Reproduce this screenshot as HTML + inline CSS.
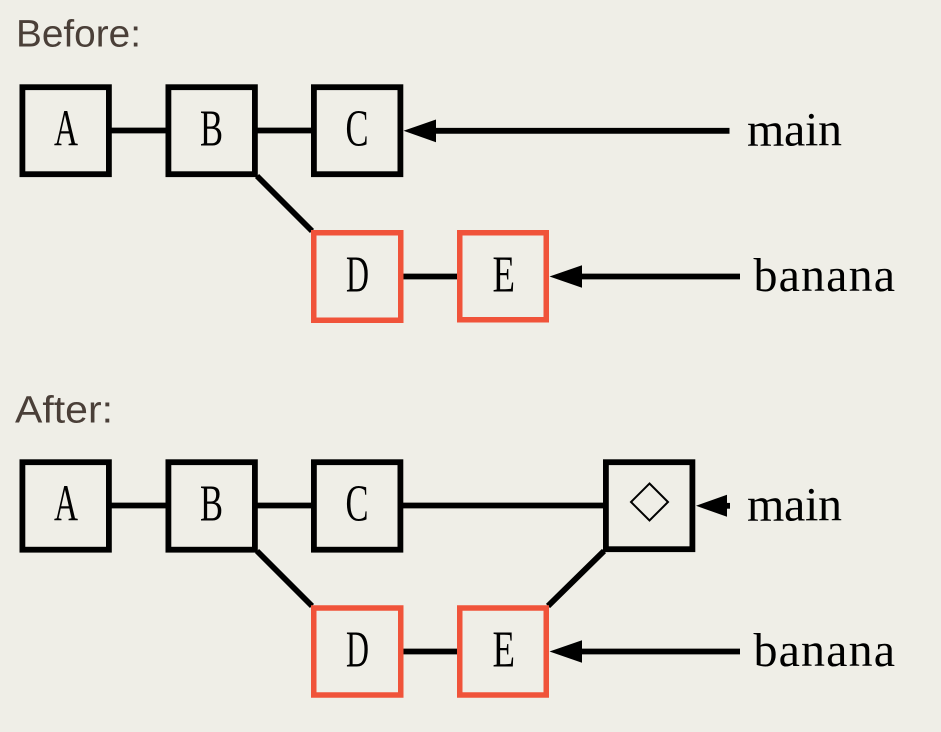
<!DOCTYPE html>
<html>
<head>
<meta charset="utf-8">
<style>
  html, body { margin:0; padding:0; }
  body { width:941px; height:732px; background:#efeee7; overflow:hidden; }
  svg { display:block; }
</style>
</head>
<body>
<svg width="941" height="732" viewBox="0 0 941 732" xmlns="http://www.w3.org/2000/svg">
  <rect x="0" y="0" width="941" height="732" fill="#efeee7"/>

  <!-- Section titles -->
  <text x="16" y="46.5" font-family="Liberation Sans, sans-serif" font-size="38" fill="#4a3f38" textLength="125" lengthAdjust="spacingAndGlyphs">Before:</text>
  <text x="15" y="422.5" font-family="Liberation Sans, sans-serif" font-size="38" fill="#4a3f38" textLength="98" lengthAdjust="spacingAndGlyphs">After:</text>

  <!-- ===== BEFORE ===== -->
  <g stroke="#000" stroke-width="5.8" fill="none">
    <line x1="111" y1="130.5" x2="166" y2="130.5"/>
    <line x1="257" y1="130.5" x2="312" y2="130.5"/>
    <line x1="257" y1="176" x2="312" y2="231"/>
    <line x1="403" y1="276.5" x2="458" y2="276.5"/>
    <line x1="430" y1="130.8" x2="729.5" y2="130.8"/>
    <line x1="576" y1="276.5" x2="740" y2="276.5"/>
    <rect x="22.4" y="87.2" width="86.5" height="87"/>
    <rect x="168.4" y="87.2" width="86.5" height="87"/>
    <rect x="313.9" y="87.2" width="86.5" height="87"/>
  </g>
  <g stroke="#f0533a" stroke-width="5.5" fill="none">
    <rect x="313.75" y="232.75" width="87" height="87.5"/>
    <rect x="459.75" y="232.75" width="86.5" height="87"/>
  </g>
  <polygon points="403.5,130.8 436,119.5 436,142.2" fill="#000"/>
  <polygon points="549.5,276.5 582,265.2 582,287.8" fill="#000"/>

  <g font-family="Liberation Serif, serif" font-size="52" fill="#000">
    <text x="54" y="145.5" textLength="24" lengthAdjust="spacingAndGlyphs">A</text>
    <text x="200" y="145.5" textLength="23" lengthAdjust="spacingAndGlyphs">B</text>
    <text x="345.5" y="145.5" textLength="23" lengthAdjust="spacingAndGlyphs">C</text>
    <text x="346" y="291.5" textLength="23" lengthAdjust="spacingAndGlyphs">D</text>
    <text x="492.5" y="291.5" textLength="22.5" lengthAdjust="spacingAndGlyphs">E</text>
  </g>
  <g font-family="Liberation Serif, serif" font-size="48" fill="#000">
    <text x="747" y="145.5" textLength="95" lengthAdjust="spacing">main</text>
    <text x="753.5" y="290.8" textLength="141.5" lengthAdjust="spacing">banana</text>
  </g>

  <!-- ===== AFTER ===== -->
  <g stroke="#000" stroke-width="5.8" fill="none">
    <line x1="111" y1="505.5" x2="166" y2="505.5"/>
    <line x1="257" y1="505.5" x2="312" y2="505.5"/>
    <line x1="403" y1="505.5" x2="603" y2="505.5"/>
    <line x1="257" y1="551" x2="312" y2="606"/>
    <line x1="548" y1="606" x2="604" y2="551"/>
    <line x1="403" y1="651.5" x2="458" y2="651.5"/>
    <line x1="722" y1="505.8" x2="730" y2="505.8"/>
    <line x1="576" y1="651.5" x2="740" y2="651.5"/>
    <rect x="22.4" y="462.2" width="86.5" height="87.5"/>
    <rect x="168.4" y="462.2" width="86.5" height="87.5"/>
    <rect x="313.9" y="462.2" width="86.5" height="87.5"/>
    <rect x="605.9" y="462.2" width="86.5" height="87"/>
  </g>
  <g stroke="#f0533a" stroke-width="5.5" fill="none">
    <rect x="313.75" y="608" width="87" height="87"/>
    <rect x="459.75" y="608" width="86.5" height="87"/>
  </g>
  <polygon points="649.5,483.5 668,502 649.5,520.5 631,502" fill="none" stroke="#000" stroke-width="2"/>
  <polygon points="696,505.8 727,494.8 727,516.8" fill="#000"/>
  <polygon points="549.5,651.5 582,640.2 582,662.8" fill="#000"/>

  <g font-family="Liberation Serif, serif" font-size="52" fill="#000">
    <text x="54" y="520.5" textLength="24" lengthAdjust="spacingAndGlyphs">A</text>
    <text x="200" y="520.5" textLength="23" lengthAdjust="spacingAndGlyphs">B</text>
    <text x="345.5" y="520.5" textLength="23" lengthAdjust="spacingAndGlyphs">C</text>
    <text x="346" y="666.5" textLength="23" lengthAdjust="spacingAndGlyphs">D</text>
    <text x="492.5" y="666.5" textLength="22.5" lengthAdjust="spacingAndGlyphs">E</text>
  </g>
  <g font-family="Liberation Serif, serif" font-size="48" fill="#000">
    <text x="747" y="520.5" textLength="95" lengthAdjust="spacing">main</text>
    <text x="753.5" y="665.8" textLength="141.5" lengthAdjust="spacing">banana</text>
  </g>
</svg>
</body>
</html>
